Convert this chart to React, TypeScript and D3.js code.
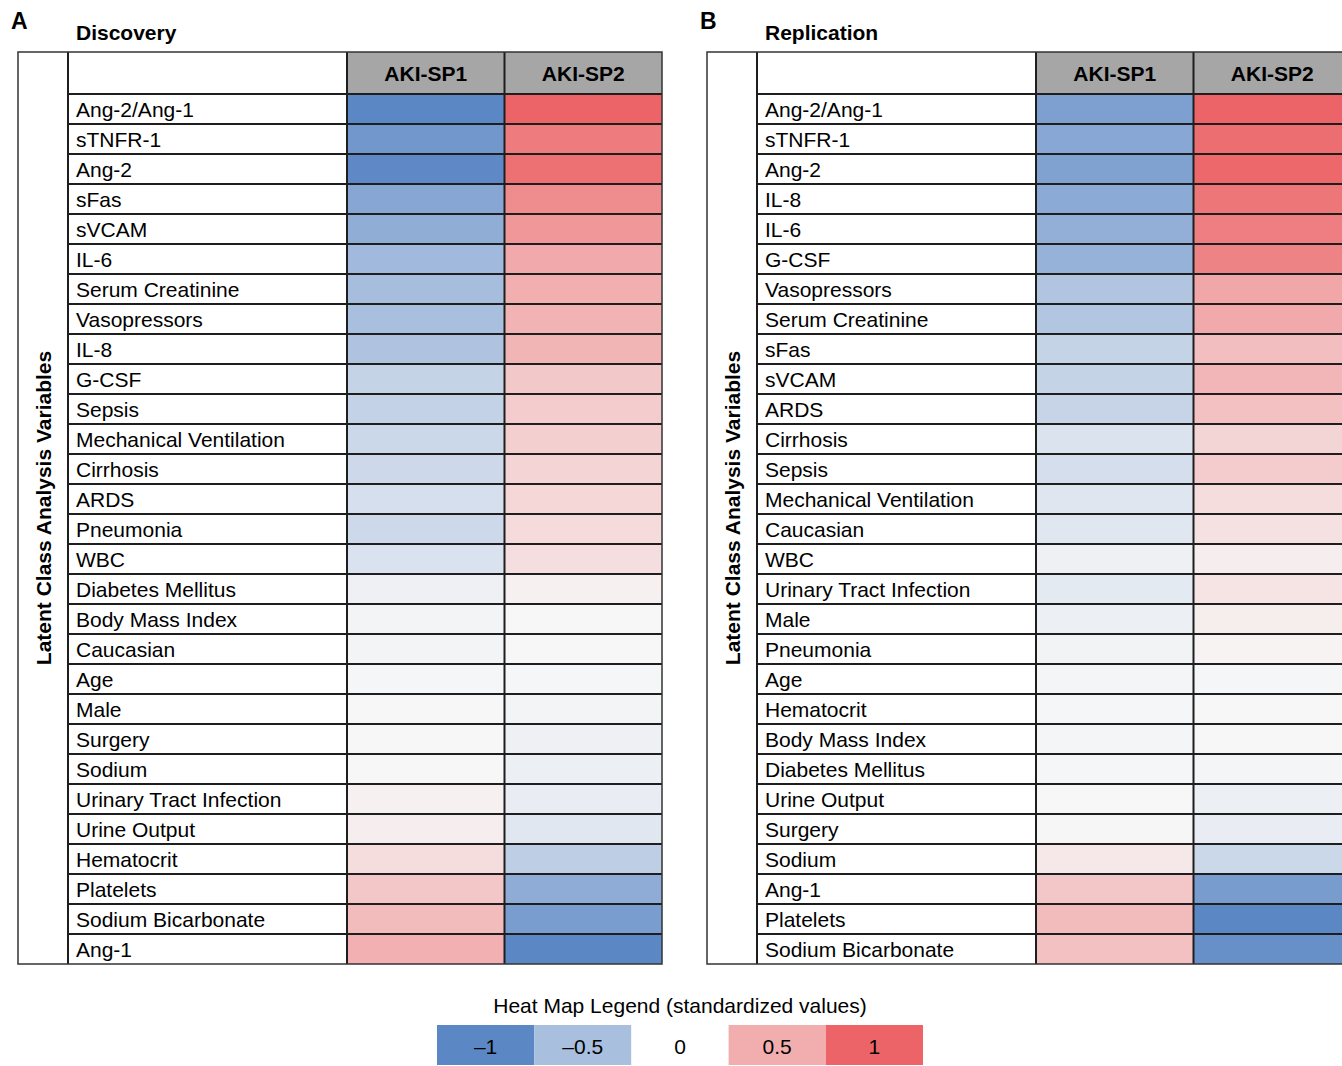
import React from 'react';
import * as d3 from 'd3';

// standardized values
const discoveryVars = [
  'Ang-2/Ang-1', 'sTNFR-1', 'Ang-2', 'sFas', 'sVCAM', 'IL-6', 'Serum Creatinine',
  'Vasopressors', 'IL-8', 'G-CSF', 'Sepsis', 'Mechanical Ventilation', 'Cirrhosis',
  'ARDS', 'Pneumonia', 'WBC', 'Diabetes Mellitus', 'Body Mass Index', 'Caucasian',
  'Age', 'Male', 'Surgery', 'Sodium', 'Urinary Tract Infection', 'Urine Output',
  'Hematocrit', 'Platelets', 'Sodium Bicarbonate', 'Ang-1'
];
const discoverySP1 = [
  -1.0, -0.86, -0.98, -0.72, -0.66, -0.55, -0.52, -0.5, -0.46, -0.32, -0.33, -0.28, -0.27,
  -0.21, -0.27, -0.19, -0.06, -0.03, -0.03, -0.01, 0.0, 0.0, 0.0, 0.05, 0.06,
  0.18, 0.33, 0.41, 0.48
];
const discoverySP2 = [
  1.0, 0.84, 0.92, 0.73, 0.65, 0.53, 0.49, 0.46, 0.45, 0.32, 0.29, 0.27, 0.24,
  0.22, 0.19, 0.17, 0.05, 0.0, 0.0, -0.01, -0.03, -0.06, -0.07, -0.09, -0.14,
  -0.37, -0.67, -0.8, -1.0
];

const replicationVars = [
  'Ang-2/Ang-1', 'sTNFR-1', 'Ang-2', 'IL-8', 'IL-6', 'G-CSF', 'Vasopressors',
  'Serum Creatinine', 'sFas', 'sVCAM', 'ARDS', 'Cirrhosis', 'Sepsis',
  'Mechanical Ventilation', 'Caucasian', 'WBC', 'Urinary Tract Infection', 'Male',
  'Pneumonia', 'Age', 'Hematocrit', 'Body Mass Index', 'Diabetes Mellitus',
  'Urine Output', 'Surgery', 'Sodium', 'Ang-1', 'Platelets', 'Sodium Bicarbonate'
];
const replicationSP1 = [
  -0.78, -0.71, -0.76, -0.69, -0.64, -0.62, -0.45, -0.44, -0.32, -0.32, -0.31, -0.18, -0.22,
  -0.15, -0.14, -0.06, -0.12, -0.07, -0.04, -0.02, -0.01, -0.02, -0.01,
  0.0, 0.01, 0.1, 0.33, 0.41, 0.37
];
const replicationSP2 = [
  1.0, 0.93, 0.97, 0.88, 0.82, 0.79, 0.55, 0.53, 0.39, 0.44, 0.37, 0.23, 0.29,
  0.18, 0.15, 0.06, 0.13, 0.07, 0.03, -0.01, 0.0, 0.0, -0.02,
  -0.07, -0.09, -0.28, -0.81, -1.0, -0.92
];

const subphenotypes = ['AKI-SP1', 'AKI-SP2'];
const legendValues = [-1, -0.5, 0, 0.5, 1];
const legendLabels = ['\u20131', '\u20130.5', '0', '0.5', '1'];

const FONT = '"Liberation Sans", Arial, Helvetica, sans-serif';

const color = d3.scaleLinear<string>()
  .domain([-1, 0, 1])
  .range(['#5b87c5', '#f7f7f7', '#ec6467'])
  .interpolate(d3.interpolateRgb);

interface PanelProps {
  x0: number;
  letter: string;
  title: string;
  vars: string[];
  sp1: number[];
  sp2: number[];
}

function Panel({ x0, letter, title, vars, sp1, sp2 }: PanelProps) {
  const top = 52;
  const headerH = 42;
  const bottom = 964;
  const outerLeft = x0 + 18;
  const labelLeft = x0 + 68;
  const cellLeft = x0 + 347;
  const right = x0 + 662;

  const y = d3.scaleBand<string>().domain(vars).range([top + headerH, bottom]);
  const x = d3.scaleBand<string>().domain(subphenotypes).range([cellLeft, right]);
  const series = [sp1, sp2];

  return (
    <g fontFamily={FONT}>
      <text x={x0 + 11} y={29} fontSize={23} fontWeight="bold">{letter}</text>
      <text x={x0 + 76} y={40} fontSize={21} fontWeight="bold">{title}</text>

      {/* header */}
      {subphenotypes.map(s => (
        <g key={s}>
          <rect x={x(s)} y={top} width={x.bandwidth()} height={headerH} fill="#a6a6a6" />
          <text x={(x(s) as number) + x.bandwidth() / 2} y={top + headerH / 2}
            dominantBaseline="central" textAnchor="middle" fontSize={21} fontWeight="bold">{s}</text>
        </g>
      ))}

      {/* cells */}
      {vars.map((v, i) => (
        <g key={v}>
          {subphenotypes.map((s, j) => (
            <rect key={s} x={x(s)} y={y(v)} width={x.bandwidth()} height={y.bandwidth()}
              fill={color(series[j][i])} />
          ))}
          <text x={labelLeft + 8} y={(y(v) as number) + y.bandwidth() / 2}
            dominantBaseline="central" fontSize={21}>{v}</text>
        </g>
      ))}

      {/* grid lines */}
      {vars.map(v => (
        <line key={v} x1={labelLeft} x2={right} y1={y(v)} y2={y(v)} stroke="#1e1e1e" strokeWidth={2} />
      ))}
      <line x1={cellLeft} x2={cellLeft} y1={top} y2={bottom} stroke="#1e1e1e" strokeWidth={2} />
      <line x1={x('AKI-SP2')} x2={x('AKI-SP2')} y1={top} y2={bottom} stroke="#1e1e1e" strokeWidth={2} />
      <line x1={labelLeft} x2={labelLeft} y1={top} y2={bottom} stroke="#1e1e1e" strokeWidth={2} />
      <rect x={outerLeft} y={top} width={right - outerLeft} height={bottom - top}
        fill="none" stroke="#333" strokeWidth={1.5} />

      <text transform={`translate(${x0 + 43},508) rotate(-90)`}
        dominantBaseline="central" textAnchor="middle" fontSize={21} fontWeight="bold">
        Latent Class Analysis Variables
      </text>
    </g>
  );
}

export default function App() {
  const width = 1342;
  const height = 1066;
  const lx = d3.scaleBand<number>().domain(legendValues).range([437, 923]);

  return (
    <svg width={width} height={height}
      style={{ position: 'absolute', left: 0, top: 0, background: '#fff', overflow: 'hidden' }}>
      <rect width={width} height={height} fill="#fff" />
      <Panel x0={0} letter="A" title="Discovery" vars={discoveryVars} sp1={discoverySP1} sp2={discoverySP2} />
      <Panel x0={689} letter="B" title="Replication" vars={replicationVars} sp1={replicationSP1} sp2={replicationSP2} />

      <g fontFamily={FONT}>
        <text x={680} y={1013} textAnchor="middle" fontSize={21}>
          Heat Map Legend (standardized values)
        </text>
        {legendValues.map((v, i) => (
          <g key={v}>
            <rect x={lx(v)} y={1025} width={lx.bandwidth()} height={40}
              fill={v === 0 ? '#ffffff' : color(v)} />
            <text x={(lx(v) as number) + lx.bandwidth() / 2} y={1046} textAnchor="middle"
              dominantBaseline="central" fontSize={21}>{legendLabels[i]}</text>
          </g>
        ))}
      </g>
    </svg>
  );
}
